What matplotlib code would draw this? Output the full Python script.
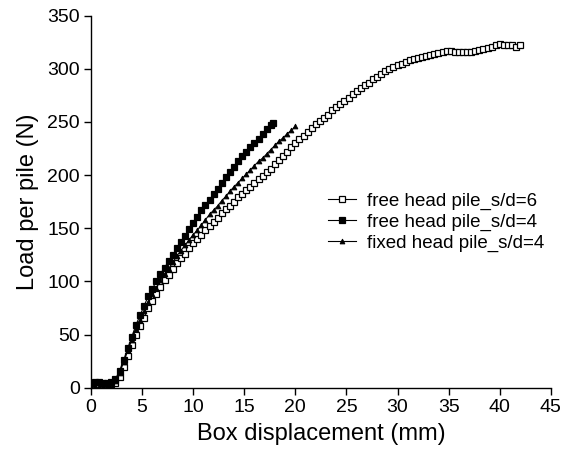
import matplotlib
matplotlib.use("Agg")
import matplotlib.pyplot as plt

plt.rcParams['font.family'] = ['Liberation Sans', 'DejaVu Sans']

# free head pile s/d=6 (open squares)
x_free6 = [0.0, 0.4, 0.8, 1.2, 1.6, 2.0, 2.4, 2.8, 3.2, 3.6, 4.0, 4.4, 4.8, 5.2, 5.6,
           6.0, 6.4, 6.8, 7.2, 7.6, 8.0, 8.4, 8.8, 9.2, 9.6, 10.0, 10.4, 10.8, 11.2, 11.6,
           12.0, 12.4, 12.8, 13.2, 13.6, 14.0, 14.4, 14.8, 15.2, 15.6, 16.0, 16.4, 16.8, 17.2, 17.6,
           18.0, 18.4, 18.8, 19.2, 19.6, 20.0, 20.4, 20.8, 21.2, 21.6, 22.0, 22.4, 22.8, 23.2, 23.6,
           24.0, 24.4, 24.8, 25.2, 25.6, 26.0, 26.4, 26.8, 27.2, 27.6, 28.0, 28.4, 28.8, 29.2, 29.6,
           30.0, 30.4, 30.8, 31.2, 31.6, 32.0, 32.4, 32.8, 33.2, 33.6, 34.0, 34.4, 34.8, 35.2, 35.6,
           36.0, 36.4, 36.8, 37.2, 37.6, 38.0, 38.4, 38.8, 39.2, 39.6, 40.0, 40.4, 40.8, 41.2, 41.6,
           42.0]
y_free6 = [2, 2, 2, 2, 2, 3, 4, 10, 19, 30, 40, 50, 58, 66, 75,
           82, 88, 95, 101, 106, 112, 117, 122, 126, 131, 136, 140, 144, 148, 152,
           156, 160, 164, 168, 171, 175, 179, 182, 186, 189, 193, 196, 199, 203, 206,
           210, 214, 218, 222, 226, 230, 234, 237, 241, 244, 248, 251, 254, 257, 261,
           264, 267, 270, 273, 276, 279, 282, 285, 287, 290, 292, 295, 298, 300, 302,
           304, 305, 306, 308, 309, 310, 311, 312, 313, 314, 315, 316, 317, 317, 316,
           316, 316, 316, 316, 317, 318, 319, 320, 321, 322, 323, 322, 322, 322, 321,
           322]

# free head pile s/d=4 (filled squares)
x_free4 = [0.0, 0.4, 0.8, 1.2, 1.6, 2.0, 2.4, 2.8, 3.2, 3.6, 4.0, 4.4, 4.8, 5.2, 5.6,
           6.0, 6.4, 6.8, 7.2, 7.6, 8.0, 8.4, 8.8, 9.2, 9.6, 10.0, 10.4, 10.8, 11.2, 11.6,
           12.0, 12.4, 12.8, 13.2, 13.6, 14.0, 14.4, 14.8, 15.2, 15.6, 16.0, 16.4, 16.8, 17.2, 17.6,
           17.8]
y_free4 = [4, 5, 5, 4, 4, 5, 8, 16, 26, 37, 48, 59, 68, 77, 86,
           93, 100, 107, 113, 119, 125, 131, 137, 143, 149, 155, 161, 167, 172, 177,
           182, 187, 193, 198, 203, 208, 213, 218, 222, 226, 230, 234, 239, 243, 247,
           249]

# fixed head pile s/d=4 (triangles)
x_fixed4 = [0.0, 0.4, 0.8, 1.2, 1.6, 2.0, 2.4, 2.8, 3.2, 3.6, 4.0, 4.4, 4.8, 5.2, 5.6,
            6.0, 6.4, 6.8, 7.2, 7.6, 8.0, 8.4, 8.8, 9.2, 9.6, 10.0, 10.4, 10.8, 11.2, 11.6,
            12.0, 12.4, 12.8, 13.2, 13.6, 14.0, 14.4, 14.8, 15.2, 15.6, 16.0, 16.4, 16.8, 17.2, 17.6,
            18.0, 18.4, 18.8, 19.2, 19.6, 20.0]
y_fixed4 = [2, 2, 2, 2, 2, 3, 6, 14, 24, 35, 45, 55, 64, 72, 81,
            88, 94, 101, 107, 112, 118, 124, 129, 134, 139, 144, 148, 153, 158, 163,
            167, 171, 176, 180, 185, 189, 193, 197, 201, 205, 209, 213, 216, 220, 224,
            228, 232, 235, 239, 242, 246]

labels = ["free head pile_s/d=6", "free head pile_s/d=4", "fixed head pile_s/d=4"]
x_ticks = [0, 5, 10, 15, 20, 25, 30, 35, 40, 45]
y_ticks = [0, 50, 100, 150, 200, 250, 300, 350]

fig = plt.figure(figsize=(5.65, 4.55), dpi=100)
ax = fig.add_axes([0.161, 0.148, 0.814, 0.8175])

ax.plot(x_free6, y_free6, color='black', lw=0.8, marker='s', ms=4.2,
        mfc='white', mec='black', mew=0.9, label=labels[0], zorder=2)
ax.plot(x_free4, y_free4, color='black', lw=0.8, marker='s', ms=4.8,
        mfc='black', mec='black', mew=0.9, label=labels[1], zorder=3)
ax.plot(x_fixed4, y_fixed4, color='black', lw=0.8, marker='^', ms=3.5,
        mfc='black', mec='black', mew=0.6, label=labels[2], zorder=4)

ax.set_xlim(0, 45)
ax.set_ylim(0, 350)
ax.set_xticks(x_ticks)
ax.set_yticks(y_ticks)
ax.spines['top'].set_visible(False)
ax.spines['right'].set_visible(False)
for s in ['left', 'bottom']:
    ax.spines[s].set_linewidth(1.0)
ax.tick_params(direction='out', length=5, width=1, labelsize=14, pad=3)
ax.set_xlabel("Box displacement (mm)", fontsize=17, labelpad=5)
ax.set_ylabel("Load per pile (N)", fontsize=17, labelpad=6)

leg = ax.legend(loc='upper left', bbox_to_anchor=(0.515, 0.525), frameon=False,
                fontsize=13.5, handlelength=1.5, handletextpad=0.6, labelspacing=0.2,
                borderaxespad=0, borderpad=0)

fig.savefig("out.png", dpi=100)
